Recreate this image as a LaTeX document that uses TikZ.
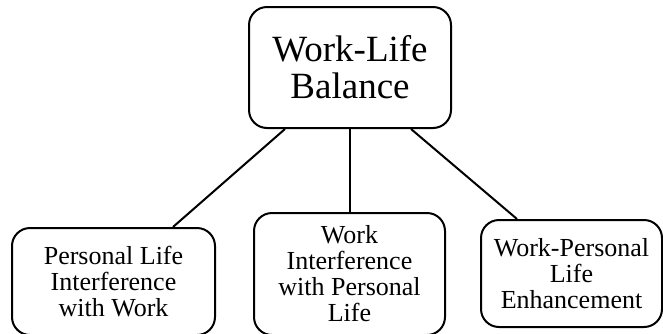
\documentclass[tikz,border=0pt]{standalone}
\usepackage{fontspec}
\setmainfont{Liberation Serif}

\begin{document}
\begin{tikzpicture}[x=1pt,y=-1pt,
  box/.style={draw,line width=2pt,rounded corners=18pt,inner sep=0pt,align=center},
  small/.style={font=\fontsize{26}{26}\selectfont},
  link/.style={line width=2pt}]

\useasboundingbox (0,0) rectangle (663,333);

\node [box,minimum width=202pt,minimum height=121pt,font=\fontsize{37}{37}\selectfont] (wlb) at (350,67.5) {Work-Life\\Balance};

\node [box,small,minimum width=203pt,minimum height=107pt] (plw) at (113.5,281.5) {Personal Life\\Interference\\with Work};
\node [box,small,minimum width=191pt,minimum height=122pt] (wpl) at (349.5,274) {Work\\Interference\\with Personal\\Life};
\node [box,small,minimum width=181pt,minimum height=107pt] (wple) at (571.5,273.5) {Work-Personal\\Life\\Enhancement};

% connectors
\draw[link] ([xshift=-65pt]wlb.south)--([xshift=59.5pt]plw.north);
\draw[link] (wlb.south)--(wlb.south |- wpl.north);
\draw[link] ([xshift=61pt]wlb.south)--([xshift=-54.5pt]wple.north);
\end{tikzpicture}
\end{document}
